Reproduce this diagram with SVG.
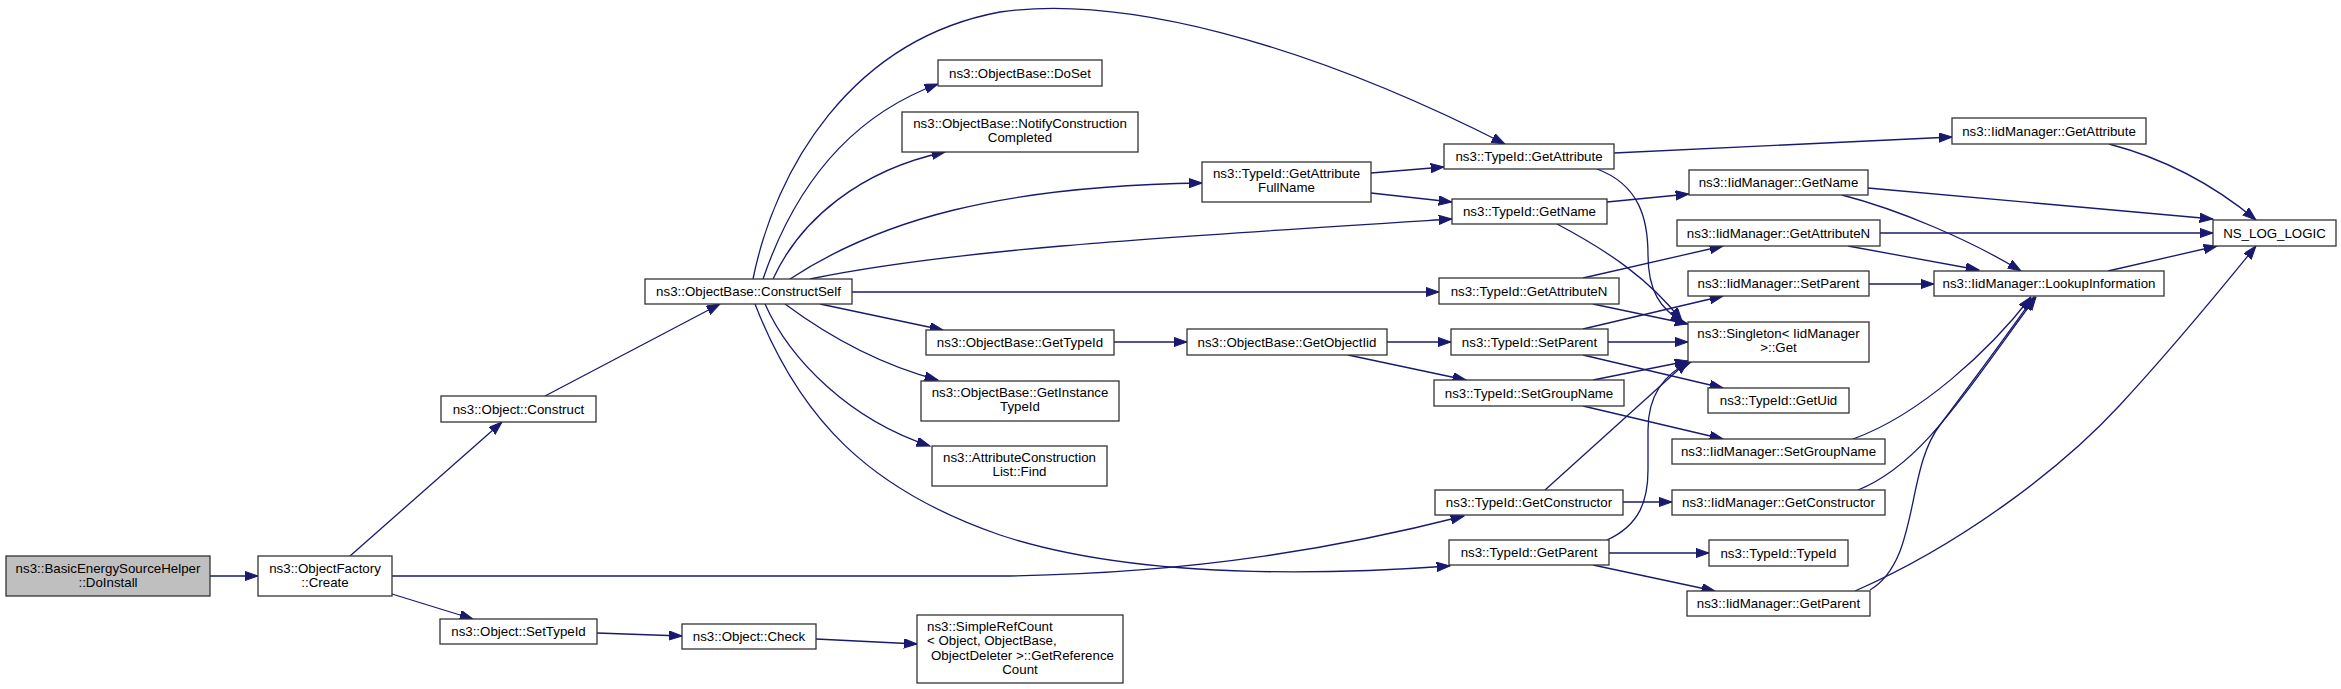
<svg xmlns="http://www.w3.org/2000/svg" width="2341" height="689" viewBox="0 0 2341 689">
<style>
.n rect{fill:#ffffff;stroke:#333333;stroke-width:1.3}
.n.hl rect{fill:#bfbfbf}
.n text{font-family:"Liberation Sans",Arial,Helvetica,sans-serif;font-size:13.3px;fill:#000000;text-anchor:middle}
.n text.l{text-anchor:start}
#edges path{fill:none;stroke:#191970;stroke-width:1.3;marker-end:url(#arr)}
</style>
<defs>
<marker id="arr" markerUnits="userSpaceOnUse" markerWidth="14" markerHeight="10" refX="13.3" refY="4.7" orient="auto">
<path d="M0,0 L13.3,4.7 L0,9.4 z" fill="#191970" stroke="#191970" stroke-width="1"/>
</marker>
</defs>
<rect x="0" y="0" width="2341" height="689" fill="#ffffff"/>
<g id="edges">
<path d="M210,576 L258,576"/>
<path d="M350,556 L502,422"/>
<path d="M392,576 L1000,576 C1200,574 1350,545 1464,516"/>
<path d="M392,594 L473,619"/>
<path d="M545,396 L720,304"/>
<path d="M597,633 L682,636"/>
<path d="M816,639 L917,644"/>
<path d="M753,279 C775,170 850,40 1000,12 C1120,-5 1300,40 1505,144"/>
<path d="M763,279 C790,200 840,120 938,84"/>
<path d="M773,279 C800,220 860,170 945,152"/>
<path d="M790,279 C880,220 1000,186 1202,183"/>
<path d="M810,279 C950,250 1150,238 1452,219"/>
<path d="M852,292 L1439,292"/>
<path d="M820,304 L943,330"/>
<path d="M785,304 C820,330 870,362 938,380"/>
<path d="M765,304 C790,360 850,420 930,446"/>
<path d="M755,304 C800,420 870,490 1000,535 C1100,568 1250,580 1450,566"/>
<path d="M1114,342 L1187,342"/>
<path d="M1387,342 L1451,342"/>
<path d="M1348,355 L1466,380"/>
<path d="M1371,173 L1444,167"/>
<path d="M1371,193 L1452,202"/>
<path d="M1614,153 L1952,137"/>
<path d="M1597,169 C1640,185 1648,220 1648,255 C1648,290 1660,310 1684,322"/>
<path d="M1607,202 L1689,194"/>
<path d="M1557,224 C1610,252 1650,280 1682,321"/>
<path d="M1583,278 L1723,246"/>
<path d="M1593,304 L1688,324"/>
<path d="M1583,329 L1723,296"/>
<path d="M1608,342 L1688,342"/>
<path d="M1583,355 L1723,388"/>
<path d="M1593,380 L1688,361"/>
<path d="M1583,406 L1723,439"/>
<path d="M1545,490 C1600,440 1650,395 1688,361"/>
<path d="M1623,502 L1672,502"/>
<path d="M1607,540 C1640,525 1648,500 1648,470 L1648,430 C1648,400 1660,375 1692,361"/>
<path d="M1609,553 L1709,553"/>
<path d="M1593,565 L1715,591"/>
<path d="M1868,188 L2213,219"/>
<path d="M1842,195 C1900,210 1970,240 2021,271"/>
<path d="M1880,233 L2213,233"/>
<path d="M1848,246 L1979,270"/>
<path d="M1869,284 L1934,284"/>
<path d="M2109,144 C2170,160 2220,190 2256,220"/>
<path d="M2108,271 L2217,246"/>
<path d="M1853,439 C1920,415 1990,350 2031,297"/>
<path d="M1858,490 C1920,465 1960,400 2036,297"/>
<path d="M1870,590 C1920,560 1905,470 1940,425 C1970,385 2000,345 2034,297"/>
<path d="M1855,591 C1960,545 2060,470 2120,405 C2180,340 2220,290 2256,246"/>
</g>
<g id="n0" class="n hl"><rect x="6" y="556" width="204" height="40"/><text x="108" y="572.5">ns3::BasicEnergySourceHelper</text><text x="108" y="587">::DoInstall</text></g>
<g id="n1" class="n"><rect x="258" y="556" width="134" height="40"/><text x="325" y="572.5">ns3::ObjectFactory</text><text x="325" y="587">::Create</text></g>
<g id="n2" class="n"><rect x="441" y="396" width="155" height="26"/><text x="518.5" y="413.5">ns3::Object::Construct</text></g>
<g id="n3" class="n"><rect x="440" y="619" width="157" height="25"/><text x="518.5" y="636">ns3::Object::SetTypeId</text></g>
<g id="n4" class="n"><rect x="645" y="279" width="207" height="25"/><text x="748.5" y="296">ns3::ObjectBase::ConstructSelf</text></g>
<g id="n5" class="n"><rect x="682" y="624" width="134" height="25"/><text x="749" y="641">ns3::Object::Check</text></g>
<g id="n6" class="n"><rect x="917" y="615" width="206" height="68"/><text class="l" x="927" y="630.5">ns3::SimpleRefCount</text><text class="l" x="927" y="645">&lt; Object, ObjectBase,</text><text class="l" x="931" y="659.5">ObjectDeleter &gt;::GetReference</text><text x="1020" y="674">Count</text></g>
<g id="n7" class="n"><rect x="938" y="60" width="164" height="26"/><text x="1020" y="77.5">ns3::ObjectBase::DoSet</text></g>
<g id="n8" class="n"><rect x="902" y="112" width="236" height="40"/><text x="1020" y="127.5">ns3::ObjectBase::NotifyConstruction</text><text x="1020" y="142">Completed</text></g>
<g id="n9" class="n"><rect x="926" y="330" width="188" height="25"/><text x="1020" y="347">ns3::ObjectBase::GetTypeId</text></g>
<g id="n10" class="n"><rect x="921" y="381" width="198" height="40"/><text x="1020" y="396.5">ns3::ObjectBase::GetInstance</text><text x="1020" y="411">TypeId</text></g>
<g id="n11" class="n"><rect x="932" y="446" width="175" height="40"/><text x="1019.5" y="461.5">ns3::AttributeConstruction</text><text x="1019.5" y="476">List::Find</text></g>
<g id="n12" class="n"><rect x="1202" y="162" width="169" height="40"/><text x="1286.5" y="177.5">ns3::TypeId::GetAttribute</text><text x="1286.5" y="192">FullName</text></g>
<g id="n13" class="n"><rect x="1444" y="144" width="170" height="25"/><text x="1529" y="161">ns3::TypeId::GetAttribute</text></g>
<g id="n14" class="n"><rect x="1452" y="199" width="155" height="25"/><text x="1529.5" y="216">ns3::TypeId::GetName</text></g>
<g id="n15" class="n"><rect x="1439" y="278" width="180" height="26"/><text x="1529" y="295.5">ns3::TypeId::GetAttributeN</text></g>
<g id="n16" class="n"><rect x="1187" y="329" width="200" height="26"/><text x="1287" y="346.5">ns3::ObjectBase::GetObjectIid</text></g>
<g id="n17" class="n"><rect x="1451" y="329" width="157" height="26"/><text x="1529.5" y="346.5">ns3::TypeId::SetParent</text></g>
<g id="n18" class="n"><rect x="1434" y="380" width="190" height="26"/><text x="1529" y="397.5">ns3::TypeId::SetGroupName</text></g>
<g id="n19" class="n"><rect x="1435" y="490" width="188" height="25"/><text x="1529" y="507">ns3::TypeId::GetConstructor</text></g>
<g id="n20" class="n"><rect x="1449" y="540" width="160" height="25"/><text x="1529" y="557">ns3::TypeId::GetParent</text></g>
<g id="n21" class="n"><rect x="1689" y="170" width="179" height="25"/><text x="1778.5" y="187">ns3::IidManager::GetName</text></g>
<g id="n22" class="n"><rect x="1677" y="220" width="203" height="26"/><text x="1778.5" y="237.5">ns3::IidManager::GetAttributeN</text></g>
<g id="n23" class="n"><rect x="1688" y="271" width="181" height="25"/><text x="1778.5" y="288">ns3::IidManager::SetParent</text></g>
<g id="n24" class="n"><rect x="1688" y="322" width="181" height="40"/><text x="1778.5" y="337.5">ns3::Singleton&lt; IidManager</text><text x="1778.5" y="352">&gt;::Get</text></g>
<g id="n25" class="n"><rect x="1708" y="388" width="141" height="25"/><text x="1778.5" y="405">ns3::TypeId::GetUid</text></g>
<g id="n26" class="n"><rect x="1672" y="439" width="213" height="25"/><text x="1778.5" y="456">ns3::IidManager::SetGroupName</text></g>
<g id="n27" class="n"><rect x="1672" y="490" width="213" height="25"/><text x="1778.5" y="507">ns3::IidManager::GetConstructor</text></g>
<g id="n28" class="n"><rect x="1709" y="540" width="139" height="26"/><text x="1778.5" y="557.5">ns3::TypeId::TypeId</text></g>
<g id="n29" class="n"><rect x="1687" y="591" width="183" height="25"/><text x="1778.5" y="608">ns3::IidManager::GetParent</text></g>
<g id="n30" class="n"><rect x="1952" y="118" width="194" height="26"/><text x="2049" y="135.5">ns3::IidManager::GetAttribute</text></g>
<g id="n31" class="n"><rect x="1934" y="271" width="230" height="25"/><text x="2049" y="288">ns3::IidManager::LookupInformation</text></g>
<g id="n32" class="n"><rect x="2213" y="220" width="123" height="26"/><text x="2274.5" y="237.5">NS_LOG_LOGIC</text></g>
</svg>
